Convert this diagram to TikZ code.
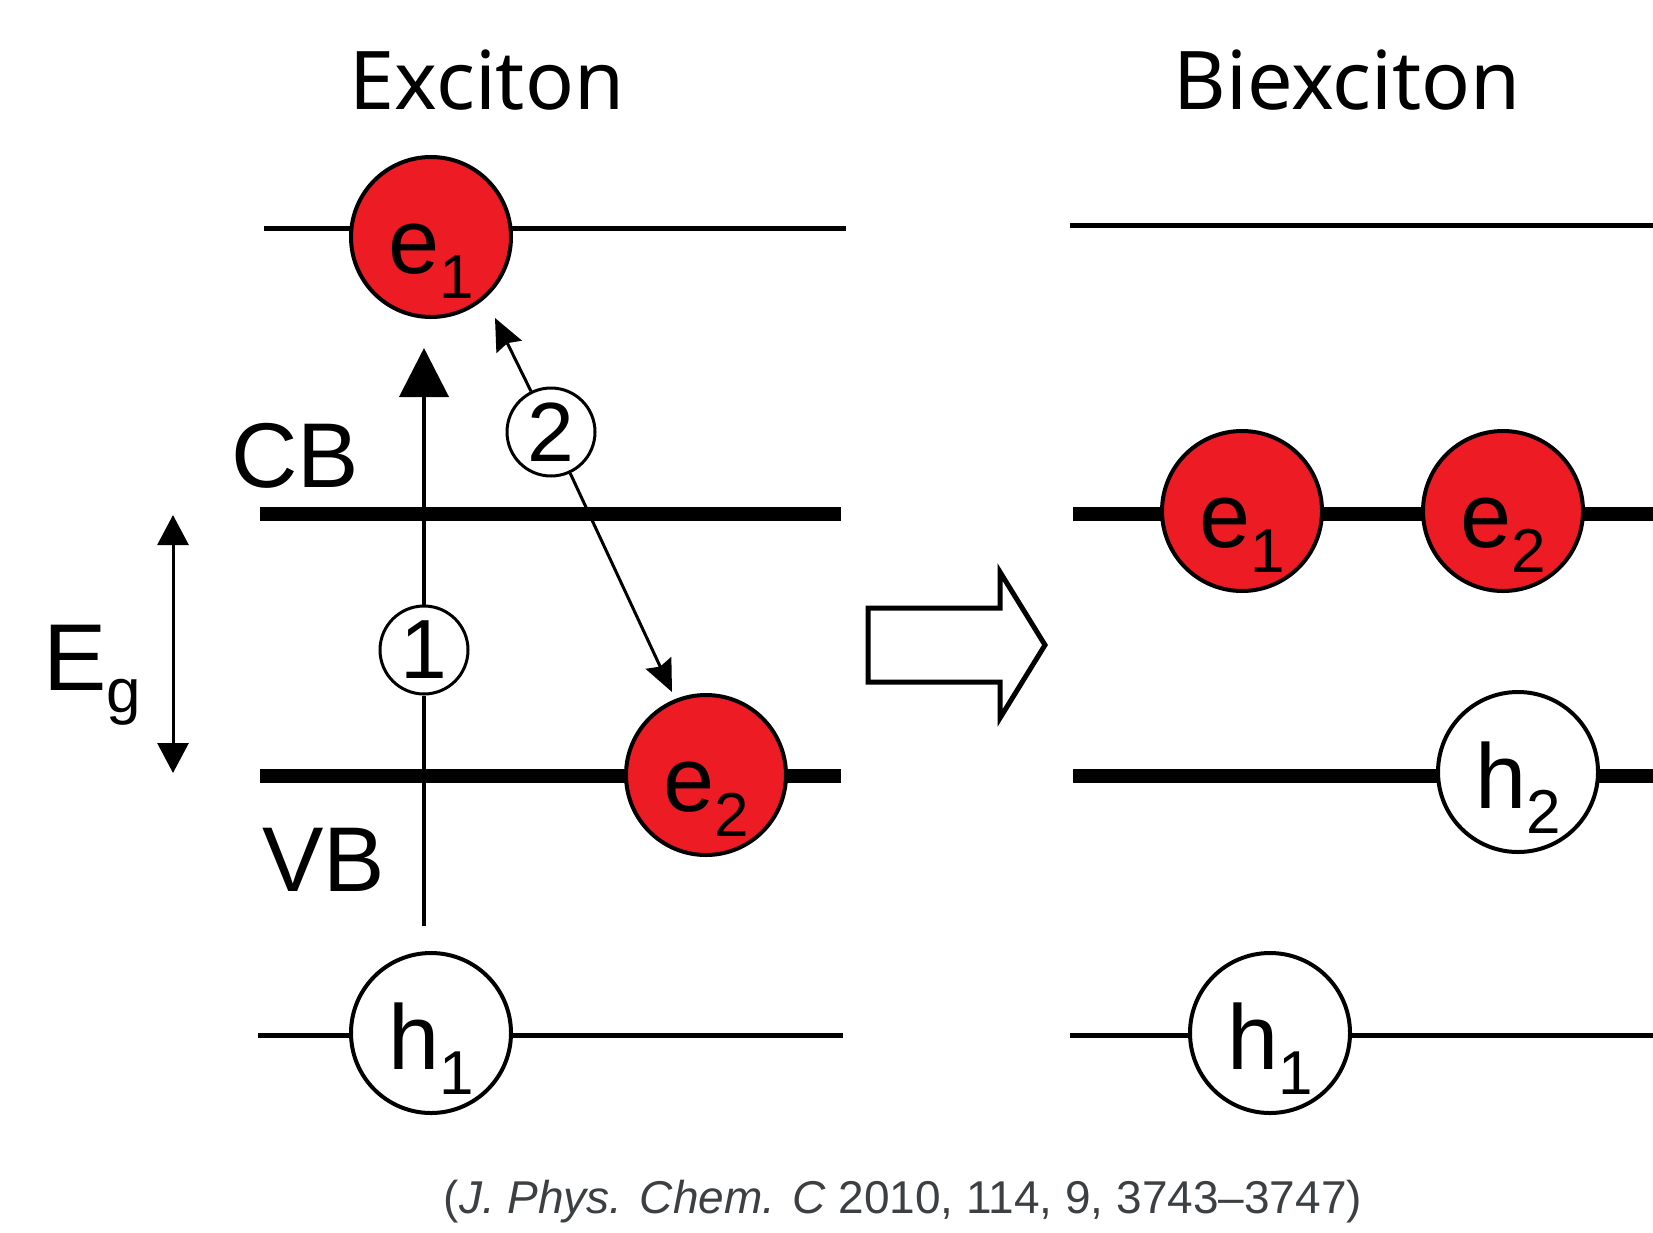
\documentclass[tikz,border=0pt]{standalone}
\usepackage{fontspec}
\setmainfont{Liberation Sans}
\newfontfamily\titlefont{Noto Sans}
\usetikzlibrary{arrows.meta}
\definecolor{ered}{HTML}{ED1C24}
\definecolor{citegray}{HTML}{3C4043}
\newcommand{\plabel}[2]{\raisebox{-18pt}[0pt][0pt]{\fontsize{46pt}{50pt}\selectfont #1\raisebox{-12.5pt}{\fontsize{31pt}{34pt}\selectfont #2}}}
\begin{document}
\begin{tikzpicture}[x=0.5pt,y=-0.5pt,
  thinlvl/.style={line width=2.5pt},
  thicklvl/.style={line width=7pt},
  particle/.style={circle, draw=black, line width=2pt, minimum size=80pt, inner sep=0pt},
  elec/.style={particle, fill=ered},
  hole/.style={particle, fill=white},
  numcirc/.style={circle, draw=black, fill=white, line width=1.5pt, minimum size=44pt, inner sep=0pt, font=\fontsize{42pt}{44pt}\selectfont},
  bandlbl/.style={anchor=base west, inner sep=0pt, font=\fontsize{46pt}{50pt}\selectfont},
  titlelbl/.style={anchor=base, inner sep=0pt, font=\titlefont\fontsize{40.5pt}{46pt}\selectfont},
]
\fill[white] (0,0) rectangle (1653,1232);
\useasboundingbox (0,0) rectangle (1653,1232);

% titles
\node[titlelbl] (t1) at (487,109) {Exciton};
\node[titlelbl] (t2) at (1347,109) {Biexciton};

% left levels
\draw[thinlvl] (264,228) -- (846,228);
\draw[thicklvl] (260,514) -- (841,514);
\draw[thicklvl] (260,776) -- (841,776);
\draw[thinlvl] (258,1035) -- (843,1035);

% right levels
\draw[thinlvl] (1070,225) -- (1653,225);
\draw[thicklvl] (1073,514) -- (1653,514);
\draw[thicklvl] (1073,776) -- (1653,776);
\draw[thinlvl] (1070,1035) -- (1653,1035);

% band labels
\node[bandlbl] (cb) at (231,487) {CB};
\node[bandlbl] (vb) at (262,891) {VB};
\node[bandlbl, font=\fontsize{47.5pt}{50pt}\selectfont] (eg) at (43,690) {E\raisebox{-11pt}{\fontsize{31pt}{34pt}\selectfont g}};

% particles left
\node[elec] (e1L) at (431,237) {\plabel{e}{1}};
\node[elec] (e2L) at (706,775) {\plabel{e}{2}};
\node[hole] (h1L) at (431,1033) {\plabel{h}{1}};

% particles right
\node[elec] (e1R) at (1242,511) {\plabel{e}{1}};
\node[elec] (e2R) at (1503,511) {\plabel{e}{2}};
\node[hole] (h2R) at (1518,772) {\plabel{h}{2}};
\node[hole] (h1R) at (1270,1033) {\plabel{h}{1}};

% numbered circles
\node[numcirc] (c1) at (424,650) {1};
\node[numcirc] (c2) at (551,432) {2};

% arrow 1
\coordinate (a1s) at (424,926);
\coordinate (a1e) at (424,348);
\draw[line width=2pt] (a1s) -- (c1);
\draw[line width=2pt, -{Triangle[width=24.5pt,length=24.5pt]}] (c1) -- (a1e);

% arrow 2
\coordinate (a2a) at (495,318);
\coordinate (a2b) at (672,692);
\draw[line width=1.5pt, -{Stealth[width=14pt,length=16pt,inset=2pt]}] (c2) -- (a2a);
\draw[line width=1.5pt, -{Stealth[width=14pt,length=16pt,inset=2pt]}] (c2) -- (a2b);

% Eg arrow
\coordinate (eg1) at (173,515);
\coordinate (eg2) at (173,773);
\draw[line width=1.5pt, {Triangle[width=15.5pt,length=15pt]}-{Triangle[width=15.5pt,length=15pt]}] (eg1) -- (eg2);

% block arrow
\draw[line width=2.5pt, line join=miter, fill=white] (868,608) -- (1000,608) -- (1000,572) -- (1045,645) -- (1000,718) -- (1000,682) -- (868,682) -- cycle;

% citation
\node[anchor=base, inner sep=0pt, text=citegray, font=\fontsize{23pt}{26pt}\selectfont] (cite) at (903,1213) {(\textit{J. Phys. Chem. C} 2010, 114, 9, 3743--3747)};
\end{tikzpicture}
\end{document}
